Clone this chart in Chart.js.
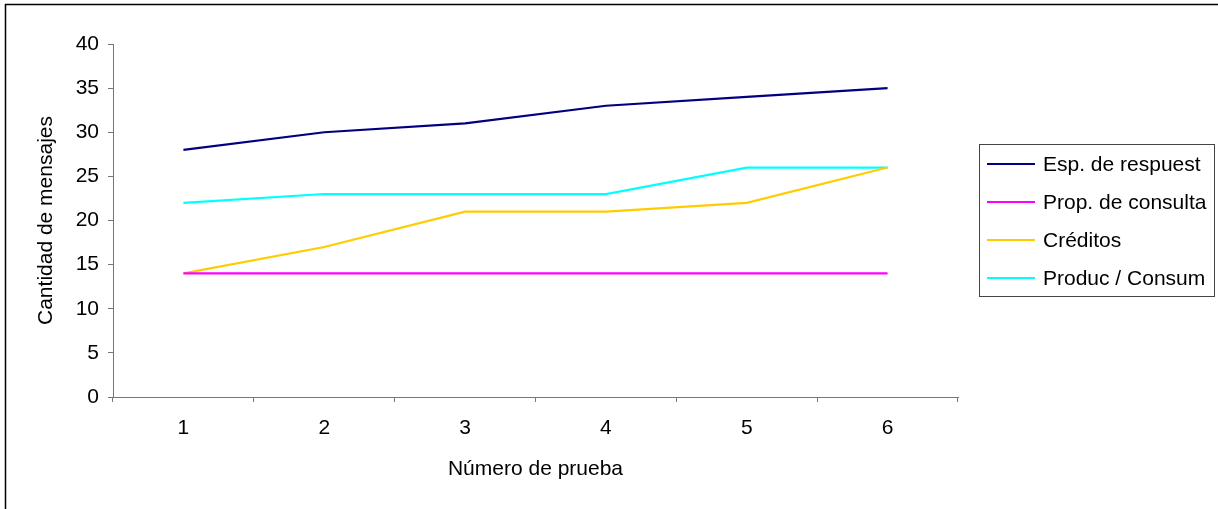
<!DOCTYPE html>
<html>
<head>
<meta charset="utf-8">
<script src="https://cdn.jsdelivr.net/npm/chart.js@4/dist/chart.umd.min.js"></script>
<style>
  html, body { margin: 0; padding: 0; background: #fff; }
  #wrap { position: relative; width: 1218px; height: 509px; }
</style>
</head>
<body>
<div id="wrap"><canvas id="c" width="1218" height="509"></canvas></div>
<script>
// Test numbers and message counts per protocol
const categories = ['1', '2', '3', '4', '5', '6'];
const espRespuesta = [28, 30, 31, 33, 34, 35];
const propConsulta = [14, 14, 14, 14, 14, 14];
const creditos = [14, 17, 21, 21, 22, 26];
const producConsum = [22, 23, 23, 23, 26, 26];
const seriesNames = ['Esp. de respuest', 'Prop. de consulta', 'Créditos', 'Produc / Consum'];
const seriesColors = ['#000080', '#FF00FF', '#FFCC00', '#00FFFF'];

const FONT = 'Liberation Sans, Arial, sans-serif';
const FSIZE = 21;
const AXIS = '#777777';

// Outer frame of the figure
const framePlugin = {
  id: 'frame',
  afterDraw(chart) {
    const ctx = chart.ctx;
    ctx.save();
    ctx.strokeStyle = '#000';
    ctx.lineWidth = 1.5;
    ctx.beginPath();
    ctx.moveTo(5.5, chart.height + 5);
    ctx.lineTo(5.5, 4.5);
    ctx.lineTo(chart.width + 5, 4.5);
    ctx.stroke();
    ctx.restore();
  }
};

// Boxed legend on the right of the plot
const boxLegend = {
  id: 'boxLegend',
  afterDraw(chart) {
    const ctx = chart.ctx;
    const x0 = 979, y0 = 144, w = 235, h = 152;
    ctx.save();
    ctx.fillStyle = '#fff';
    ctx.fillRect(x0, y0, w, h);
    ctx.strokeStyle = '#444';
    ctx.lineWidth = 1;
    ctx.strokeRect(x0 + 0.5, y0 + 0.5, w, h);
    ctx.font = FSIZE + 'px ' + FONT;
    ctx.textBaseline = 'middle';
    ctx.fillStyle = '#000';
    chart.data.datasets.forEach((ds, i) => {
      const y = y0 + 20 + i * 38;
      ctx.strokeStyle = ds.borderColor;
      ctx.lineWidth = 2;
      ctx.beginPath();
      ctx.moveTo(987, y);
      ctx.lineTo(1035, y);
      ctx.stroke();
      ctx.fillText(ds.label, 1043, y + 1);
    });
    ctx.restore();
  }
};

const seriesData = [espRespuesta, propConsulta, creditos, producConsum];

new Chart(document.getElementById('c'), {
  type: 'line',
  data: {
    labels: categories,
    datasets: seriesData.map((d, i) => ({
      label: seriesNames[i],
      data: d,
      borderColor: seriesColors[i],
      backgroundColor: seriesColors[i],
      borderWidth: 2.2,
      pointRadius: 0,
      tension: 0,
      fill: false
    }))
  },
  options: {
    responsive: false,
    animation: false,
    devicePixelRatio: 1,
    layout: { padding: { left: 0, right: 260, top: 44, bottom: 0 } },
    plugins: {
      legend: { display: false },
      tooltip: { enabled: false }
    },
    scales: {
      x: {
        type: 'category',
        offset: true,
        afterFit(s) { s.height = 112; },
        grid: {
          offset: true,
          drawOnChartArea: false,
          drawTicks: true,
          tickLength: 5,
          color: AXIS
        },
        border: { display: true, color: AXIS, width: 1 },
        ticks: { color: '#000', font: { family: FONT, size: FSIZE }, padding: 14, maxRotation: 0 },
        title: {
          display: true,
          text: 'Número de prueba',
          color: '#000',
          font: { family: FONT, size: FSIZE },
          padding: { top: 0, bottom: 27 }
        }
      },
      y: {
        min: 0,
        max: 40,
        afterFit(s) { s.width = 113; },
        grid: {
          drawOnChartArea: false,
          drawTicks: true,
          tickLength: 5,
          color: AXIS
        },
        border: { display: true, color: AXIS, width: 1 },
        ticks: { stepSize: 5, color: '#000', font: { family: FONT, size: FSIZE }, padding: 9 },
        title: {
          display: true,
          text: 'Cantidad de mensajes',
          color: '#000',
          font: { family: FONT, size: FSIZE },
          padding: { top: 34, bottom: 0 }
        }
      }
    }
  },
  plugins: [framePlugin, boxLegend]
});
</script>
</body>
</html>
